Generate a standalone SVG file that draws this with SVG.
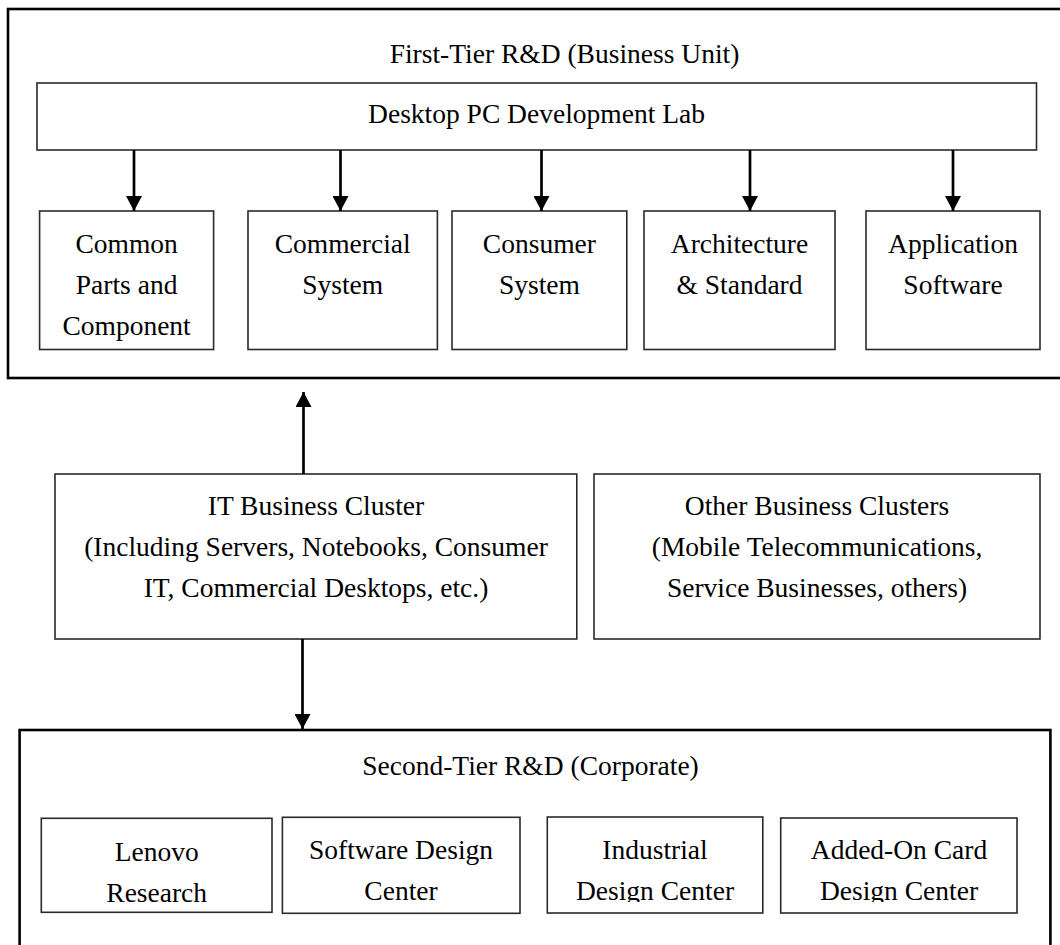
<svg xmlns="http://www.w3.org/2000/svg" width="1060" height="945" viewBox="0 0 1060 945">
  <style>
    .frame { fill: none; stroke: #000; stroke-width: 2.6; }
    .box { fill: #fff; stroke: #2a2a2a; stroke-width: 1.6; }
    .lbl { font-family: "Liberation Serif", "Times New Roman", serif; font-size: 27.5px; fill: #000; text-anchor: middle; }
    .link { fill: none; stroke: #000; stroke-width: 2.7; marker-end: url(#head); }
  </style>
  <defs>
    <marker id="head" markerUnits="userSpaceOnUse" markerWidth="16" markerHeight="16" refX="15" refY="8" orient="auto">
      <path d="M0,0 L15,8 L0,16 Z" fill="#000"/>
    </marker>
    <!-- descenders of the last line in two lower boxes are cut off -->
    <clipPath id="cut" clipPathUnits="userSpaceOnUse">
      <rect x="540" y="812" width="490" height="90"/>
    </clipPath>
  </defs>
  <rect width="1060" height="945" fill="#fff"/>

  <!-- First tier (frame runs past the right edge) -->
  <g id="first-tier">
    <rect class="frame" x="8" y="9" width="1070" height="369"/>
    <text class="lbl" x="564.5" y="63">First-Tier R&amp;D (Business Unit)</text>
  </g>
  <g id="desktop-lab">
    <rect class="box" x="37" y="83" width="999.5" height="67"/>
    <text class="lbl" x="536.5" y="123">Desktop PC Development Lab</text>
  </g>
  <g id="common-parts">
    <rect class="box" x="39.6" y="211" width="174" height="138.5"/>
    <text class="lbl" x="126.6" y="253">Common</text>
    <text class="lbl" x="126.6" y="294">Parts and</text>
    <text class="lbl" x="126.6" y="335">Component</text>
  </g>
  <g id="commercial-system">
    <rect class="box" x="248" y="211" width="189.4" height="138.5"/>
    <text class="lbl" x="342.7" y="253">Commercial</text>
    <text class="lbl" x="342.7" y="294">System</text>
  </g>
  <g id="consumer-system">
    <rect class="box" x="452" y="211" width="174.8" height="138.5"/>
    <text class="lbl" x="539.4" y="253">Consumer</text>
    <text class="lbl" x="539.4" y="294">System</text>
  </g>
  <g id="architecture">
    <rect class="box" x="644" y="211" width="191" height="138.5"/>
    <text class="lbl" x="739.5" y="253">Architecture</text>
    <text class="lbl" x="739.5" y="294">&amp; Standard</text>
  </g>
  <g id="application-software">
    <rect class="box" x="866" y="211" width="174" height="138.5"/>
    <text class="lbl" x="953" y="253">Application</text>
    <text class="lbl" x="953" y="294">Software</text>
  </g>

  <!-- Business clusters -->
  <g id="it-cluster">
    <rect class="box" x="55" y="474" width="521.8" height="165"/>
    <text class="lbl" x="316" y="515">IT Business Cluster</text>
    <text class="lbl" x="316" y="556">(Including Servers, Notebooks, Consumer</text>
    <text class="lbl" x="316" y="597">IT, Commercial Desktops, etc.)</text>
  </g>
  <g id="other-clusters">
    <rect class="box" x="594" y="474" width="446" height="165"/>
    <text class="lbl" x="817" y="515">Other Business Clusters</text>
    <text class="lbl" x="817" y="556">(Mobile Telecommunications,</text>
    <text class="lbl" x="817" y="597">Service Businesses, others)</text>
  </g>

  <!-- Second tier -->
  <g id="second-tier">
    <rect class="frame" x="19.6" y="730" width="1030.8" height="240"/>
    <text class="lbl" x="530.5" y="775">Second-Tier R&amp;D (Corporate)</text>
  </g>
  <g id="lenovo-research">
    <rect class="box" x="41.3" y="818.3" width="230.7" height="94"/>
    <text class="lbl" x="156.7" y="860.5">Lenovo</text>
    <text class="lbl" x="156.7" y="901.5">Research</text>
  </g>
  <g id="software-design">
    <rect class="box" x="282.4" y="817.3" width="237.6" height="96"/>
    <text class="lbl" x="401" y="858.5">Software Design</text>
    <text class="lbl" x="401" y="900">Center</text>
  </g>
  <g id="industrial-design">
    <rect class="box" x="547.3" y="817" width="215.5" height="96"/>
    <g clip-path="url(#cut)">
      <text class="lbl" x="655" y="858.5">Industrial</text>
      <text class="lbl" x="655" y="900">Design Center</text>
    </g>
  </g>
  <g id="addon-card">
    <rect class="box" x="780.7" y="818" width="236.3" height="95"/>
    <g clip-path="url(#cut)">
      <text class="lbl" x="899" y="858.5">Added-On Card</text>
      <text class="lbl" x="899" y="900">Design Center</text>
    </g>
  </g>

  <!-- Connectors -->
  <g id="connectors">
    <line class="link" x1="134" y1="150" x2="134" y2="211"/>
    <line class="link" x1="340.5" y1="150" x2="340.5" y2="211"/>
    <line class="link" x1="541.5" y1="150" x2="541.5" y2="211"/>
    <line class="link" x1="750" y1="150" x2="750" y2="211"/>
    <line class="link" x1="953" y1="150" x2="953" y2="211"/>
    <line class="link" x1="303.5" y1="474" x2="303.5" y2="392"/>
    <line class="link" x1="302.5" y1="639" x2="302.5" y2="729"/>
  </g>
</svg>
